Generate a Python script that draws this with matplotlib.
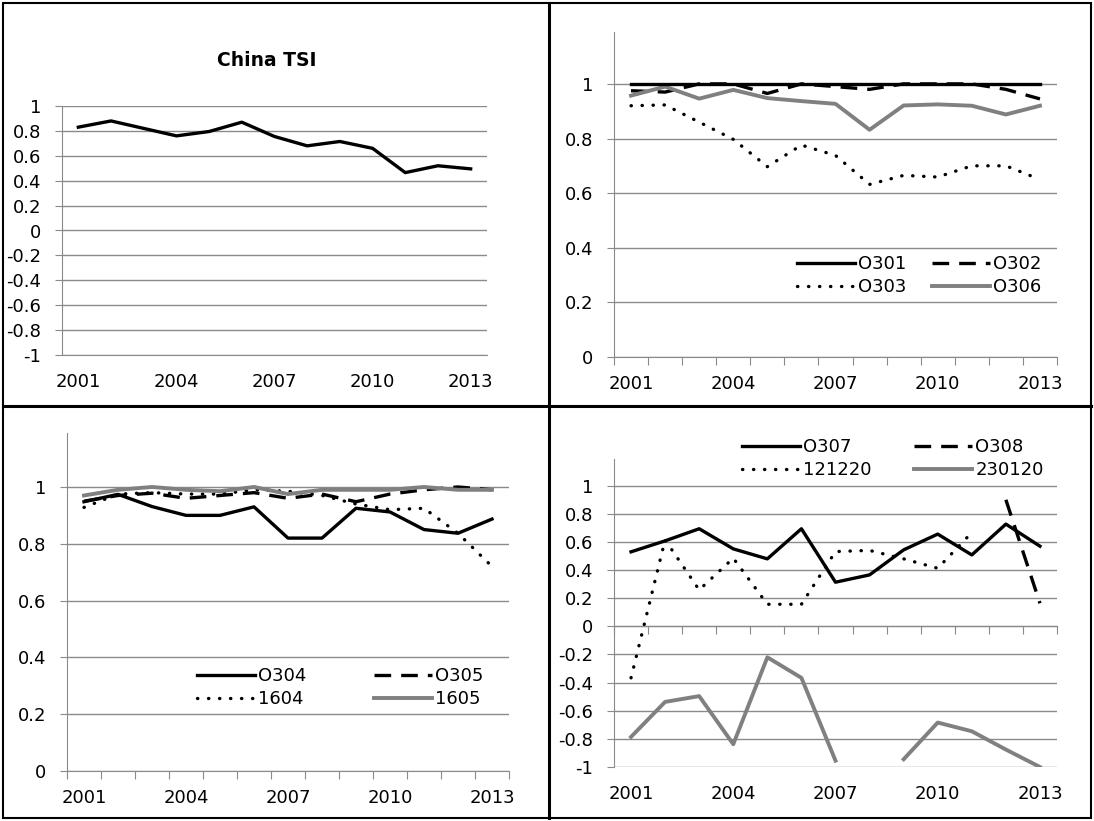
import numpy as np
import matplotlib
matplotlib.use('Agg')
import matplotlib.pyplot as plt
from matplotlib.lines import Line2D
from matplotlib.legend import Legend

# ----------------------- data -----------------------
years = ['2001', '2002', '2003', '2004', '2005', '2006', '2007',
         '2008', '2009', '2010', '2011', '2012', '2013']
shown_years = ['2001', '2004', '2007', '2010', '2013']
nan = np.nan

china_tsi = [0.83, 0.88, 0.82, 0.76, 0.795, 0.87, 0.755, 0.68, 0.715, 0.66, 0.465, 0.52, 0.495]

o301 = [1.0] * 13
o302 = [0.975, 0.97, 1.0, 1.0, 0.965, 1.0, 0.99, 0.98, 1.0, 1.0, 1.0, 0.98, 0.945]
o303 = [0.92, 0.923, 0.86, 0.797, 0.697, 0.776, 0.738, 0.632, 0.665, 0.659, 0.70, 0.70, 0.65]
o306 = [0.957, 0.99, 0.946, 0.978, 0.948, 0.937, 0.927, 0.832, 0.921, 0.925, 0.92, 0.888, 0.92]

o304 = [0.948, 0.974, 0.931, 0.90, 0.90, 0.93, 0.82, 0.82, 0.925, 0.912, 0.85, 0.837, 0.887]
o305 = [0.95, 0.97, 0.978, 0.96, 0.97, 0.98, 0.96, 0.975, 0.948, 0.975, 0.99, 1.0, 0.99]
s1604 = [0.928, 0.975, 0.98, 0.975, 0.975, 0.99, 0.985, 0.97, 0.94, 0.92, 0.925, 0.837, 0.72]
s1605 = [0.97, 0.99, 1.0, 0.99, 0.985, 1.0, 0.975, 0.99, 0.99, 0.99, 1.0, 0.99, 0.99]

o307 = [0.53, 0.608, 0.694, 0.551, 0.48, 0.694, 0.314, 0.366, 0.544, 0.656, 0.508, 0.727, 0.57]
o308 = [nan, nan, nan, nan, nan, nan, nan, nan, nan, nan, nan, 0.90, 0.164]
s121220 = [-0.366, 0.615, 0.259, 0.485, 0.157, 0.157, 0.532, 0.54, 0.48, 0.413, 0.667, nan, nan]
s230120 = [-0.786, -0.537, -0.496, -0.838, -0.22, -0.366, -0.955, nan, -0.945, -0.684, -0.746, -0.876, -1.0]

# ----------------------- styles -----------------------
plt.rcParams['font.family'] = ['DejaVu Sans']
plt.rcParams['font.size'] = 13
plt.rcParams['axes.unicode_minus'] = False

GRID = '#8a8a8a'
GREY_LINE = '#808080'
SOLID = dict(color='black', lw=2.4, linestyle='-')
DASHED = dict(color='black', lw=2.4, linestyle=(0, (5, 3)))
DOTTED = dict(color='black', lw=2.4, linestyle=(0, (0.1, 3.2)), dash_capstyle='round')
GREY = dict(color=GREY_LINE, lw=2.8, linestyle='-')

x = np.arange(len(years))
W, H = 1094, 821


def tick_text(v):
    v = 0.0 if abs(v) < 1e-9 else v
    return f'{v:g}'


def style_axes(ax, ylim, yticks, axis_y, tick_marks=True):
    ax.set_xlim(-0.5, len(years) - 0.5)
    ax.set_ylim(*ylim)
    ax.set_yticks(yticks)
    ax.set_yticklabels([tick_text(v) for v in yticks])
    ax.yaxis.grid(True, color=GRID, lw=1)
    ax.set_axisbelow(True)
    for side in ['top', 'right']:
        ax.spines[side].set_visible(False)
    ax.spines['left'].set_color(GRID)
    ax.spines['bottom'].set_color(GRID)
    ax.spines['bottom'].set_position(('data', axis_y))
    ax.tick_params(axis='y', length=5, color=GRID, pad=10)
    ax.set_xticks(np.arange(-0.5, len(years)))
    ax.set_xticklabels([])
    ax.tick_params(axis='x', length=6 if tick_marks else 0, color=GRID)
    # year labels always sit under the plot area
    sec = ax.secondary_xaxis(0)
    sec.set_xticks([years.index(y) for y in shown_years])
    sec.set_xticklabels(shown_years)
    sec.tick_params(length=0, pad=13)
    for sp in sec.spines.values():
        sp.set_visible(False)


def add_legend(ax, handles, labels, x_cols, y_top):
    # one legend per column so each column sits where Excel put it
    for col, x0 in enumerate(x_cols):
        leg = Legend(ax, handles[col::2], labels[col::2],
                     loc='upper left', bbox_to_anchor=(x0 / W, 1 - y_top / H),
                     bbox_transform=ax.figure.transFigure, frameon=False,
                     borderpad=0, handlelength=3.2, handletextpad=0.2,
                     labelspacing=0.3, fontsize=13)
        ax.add_artist(leg)


fig = plt.figure(figsize=(10.94, 8.21), dpi=100)

# ----------------------- China TSI -----------------------
ax1 = fig.add_axes([62 / W, 1 - 355 / H, (487 - 62) / W, (355 - 106) / H])
ax1.plot(x, china_tsi, **SOLID)
style_axes(ax1, (-1, 1), np.round(np.arange(-1, 1.01, 0.2), 1), -1, tick_marks=False)
fig.text(267 / W, 1 - 61 / H, 'China TSI', ha='center', va='center',
         fontsize=13.5, fontweight='bold')

# ----------------------- O301..O306 -----------------------
ax2 = fig.add_axes([614 / W, 1 - 357 / H, (1057 - 614) / W, (357 - 32) / H])
h2 = [ax2.plot(x, o301, **SOLID)[0], ax2.plot(x, o302, **DASHED)[0],
      ax2.plot(x, o303, **DOTTED)[0], ax2.plot(x, o306, **GREY)[0]]
ax2.lines[0].set_zorder(3)
style_axes(ax2, (0, 1.19), np.round(np.arange(0, 1.01, 0.2), 1), 0)
add_legend(ax2, h2, ['O301', 'O302', 'O303', 'O306'], (788, 923), 246)

# ----------------------- O304..1605 -----------------------
ax3 = fig.add_axes([67 / W, 1 - 771 / H, (509 - 67) / W, (771 - 433) / H])
h3 = [ax3.plot(x, o304, **SOLID)[0], ax3.plot(x, o305, **DASHED)[0],
      ax3.plot(x, s1604, **DOTTED)[0], ax3.plot(x, s1605, **GREY)[0]]
style_axes(ax3, (0, 1.19), np.round(np.arange(0, 1.01, 0.2), 1), 0)
add_legend(ax3, h3, ['O304', 'O305', '1604', '1605'], (188, 365), 658)

# ----------------------- O307..230120 -----------------------
ax4 = fig.add_axes([614 / W, 1 - 767 / H, (1057 - 614) / W, (767 - 459) / H])
h4 = [ax4.plot(x, o307, **SOLID)[0], ax4.plot(x, o308, **DASHED)[0],
      ax4.plot(x, s121220, **DOTTED)[0], ax4.plot(x, s230120, **GREY)[0]]
style_axes(ax4, (-1, 1.19), np.round(np.arange(-1, 1.01, 0.2), 1), 0)
add_legend(ax4, h4, ['O307', 'O308', '121220', '230120'], (733, 905), 429)

# ----------------------- frame and dividers -----------------------
fig.add_artist(plt.Rectangle((3 / W, 3 / H), 1 - 6 / W, 1 - 6 / H, fill=False,
                             edgecolor='black', lw=1.5, transform=fig.transFigure))
fig.add_artist(Line2D([549 / W, 549 / W], [3 / H, 1 - 3 / H], color='black', lw=2.2,
                      transform=fig.transFigure))
fig.add_artist(Line2D([3 / W, 1 - 3 / W], [1 - 406 / H, 1 - 406 / H], color='black', lw=2.2,
                      transform=fig.transFigure))

fig.savefig('out.png', dpi=100)
